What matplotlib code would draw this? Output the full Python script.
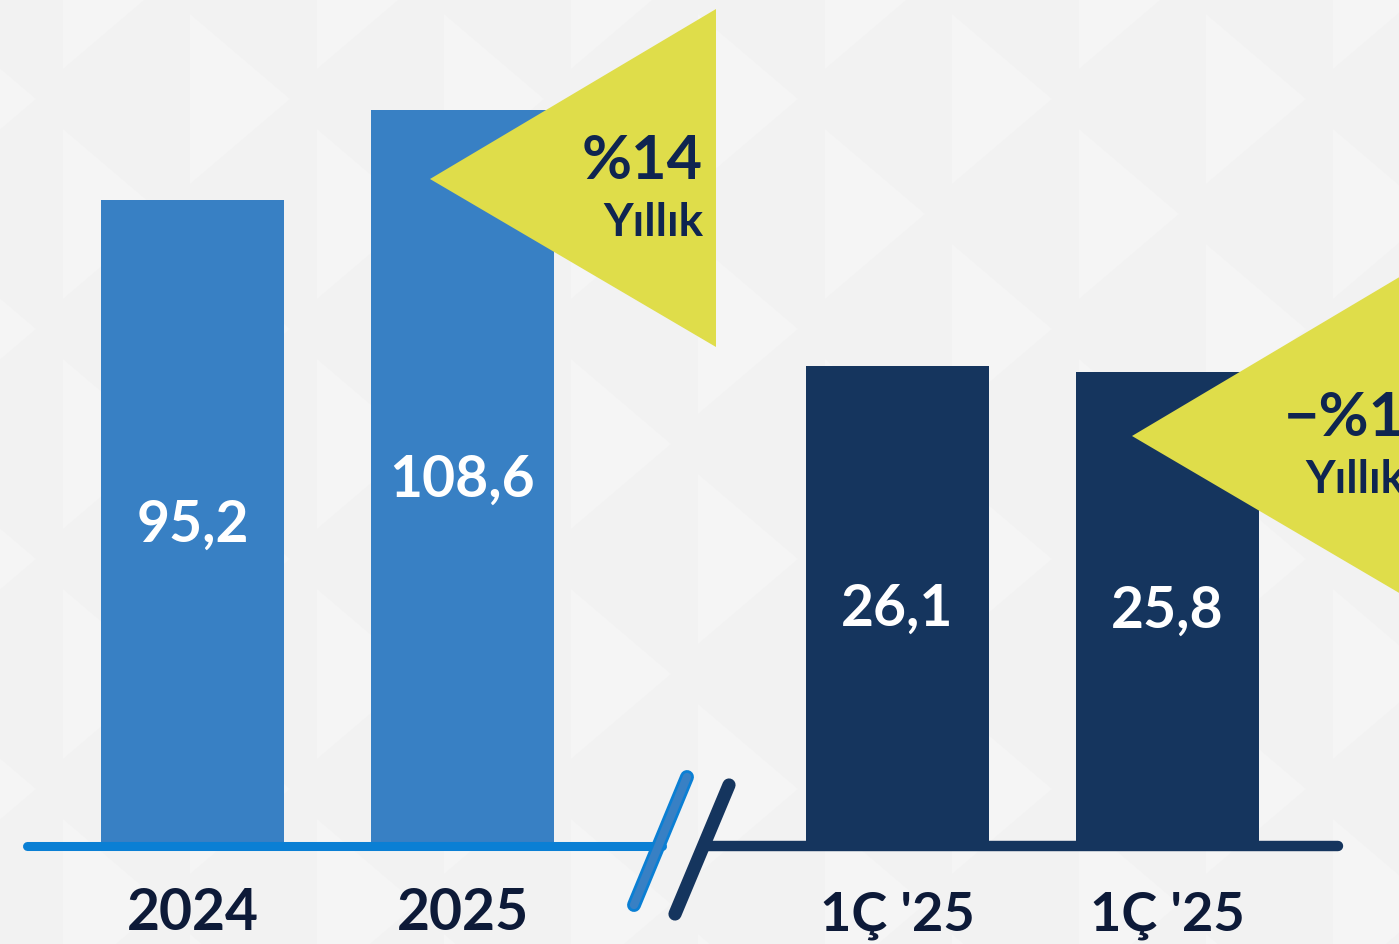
import matplotlib
matplotlib.use("Agg")
import matplotlib.pyplot as plt
from matplotlib.lines import Line2D
from matplotlib.patches import Polygon

W, H = 1399, 945

# ---- data ----
annual_labels = ["2024", "2025"]
annual_values = [95.2, 108.6]
quarter_labels = ["1Ç '25", "1Ç '25"]
quarter_values = [26.1, 25.8]
annual_change = ["%14", "Yıllık"]
quarter_change = ["−%1", "Yıllık"]

LIGHT = "#3880c4"
DARK = "#15355e"
LINE_BLUE = "#0a7fd4"
YELLOW = "#dfdd4a"
NAVY_TXT = "#0f2550"
CAT_TXT = "#0d1a38"
FONT = ["Lato", "DejaVu Sans"]

fig = plt.figure(figsize=(W / 100, H / 100), dpi=100)
fig.patch.set_facecolor("#f2f2f2")

# ---- faint background triangle pattern ----
bg = fig.add_axes([0, 0, 1, 1], zorder=0)
bg.set_xlim(0, W)
bg.set_ylim(H, 0)
bg.axis("off")
col_w = 127
tri_h = 170
for i in range(-1, 12):
    x0 = 63 + col_w * i
    off = (i % 2) * 115 - 100
    for j in range(-1, 8):
        y0 = off + j * 230
        bg.add_patch(Polygon([(x0, y0), (x0, y0 + tri_h), (x0 + 100, y0 + tri_h / 2)],
                             closed=True, facecolor="#f5f5f5", edgecolor="none"))

base_px = 843  # bar baseline in pixels from top
bar_w = 183 / 270

# ---- left axes (annual) ----
axL = fig.add_axes([0, 1 - base_px / H, 700 / W, base_px / H], zorder=2)
axL.set_xlim((0 - 192.5) / 270, (700 - 192.5) / 270)
axL.set_ylim(0, base_px / 6.74)
axL.axis("off")
xl = list(range(len(annual_values)))
axL.bar(xl, annual_values, width=bar_w, color=LIGHT, edgecolor="none")
for x, v in zip(xl, annual_values):
    axL.text(x, v / 2 - 0.5, f"{v:.1f}".replace(".", ","), ha="center", va="center",
             color="white", fontsize=41, fontweight="bold", family=FONT)

# ---- right axes (quarterly) ----
axR = fig.add_axes([700 / W, 1 - base_px / H, 699 / W, base_px / H], zorder=2)
axR.set_xlim((700 - 897) / 270, (1399 - 897) / 270)
axR.set_ylim(0, base_px / 18.23)
axR.axis("off")
xr = list(range(len(quarter_values)))
axR.bar(xr, quarter_values, width=bar_w, color=DARK, edgecolor="none")
for x, v in zip(xr, quarter_values):
    axR.text(x, v / 2 - 0.2, f"{v:.1f}".replace(".", ","), ha="center", va="center",
             color="white", fontsize=41, fontweight="bold", family=FONT)

# ---- overlay axes for annotations / baseline ----
ov = fig.add_axes([0, 0, 1, 1], zorder=3)
ov.set_xlim(0, W)
ov.set_ylim(H, 0)
ov.axis("off")
ov.patch.set_alpha(0)

# baselines
ov.add_line(Line2D([27, 662], [847, 847], color=LINE_BLUE, lw=6.5, solid_capstyle="round"))
ov.add_line(Line2D([706, 1338], [847, 847], color=DARK, lw=7.5, solid_capstyle="round"))
# break marks
ov.add_line(Line2D([687, 634], [778, 906], color=LINE_BLUE, lw=10, solid_capstyle="round"))
ov.add_line(Line2D([687, 634], [778, 906], color=LIGHT, lw=6, solid_capstyle="round"))
ov.add_line(Line2D([729, 675], [786, 915], color=DARK, lw=9.5, solid_capstyle="round"))

# category labels
for x, lab in zip(xl, annual_labels):
    px = 192.5 + 270 * x
    ov.text(px, 914, lab, ha="center", va="center", color=CAT_TXT,
            fontsize=41, fontweight="bold", family=FONT)
for x, lab in zip(xr, quarter_labels):
    px = 897 + 270 * x
    ov.text(px, 916, lab, ha="center", va="center", color=CAT_TXT,
            fontsize=39, fontweight="bold", family=FONT)


# change triangles
def change_tri(apex_x, apex_y, texts):
    ov.add_patch(Polygon([(apex_x, apex_y), (apex_x + 286, apex_y - 170),
                          (apex_x + 286, apex_y + 168)], closed=True,
                         facecolor=YELLOW, edgecolor="none", clip_on=True))
    ov.text(apex_x + 273, apex_y - 19, texts[0], ha="right", va="center",
            color=NAVY_TXT, fontsize=44, fontweight="bold", family=FONT)
    ov.text(apex_x + 273, apex_y + 43, texts[1], ha="right", va="center",
            color=NAVY_TXT, fontsize=33, fontweight="bold", family=FONT)


change_tri(430, 180, annual_change)
change_tri(1132, 437, quarter_change)

fig.savefig("out.png", dpi=100, facecolor=fig.get_facecolor())
